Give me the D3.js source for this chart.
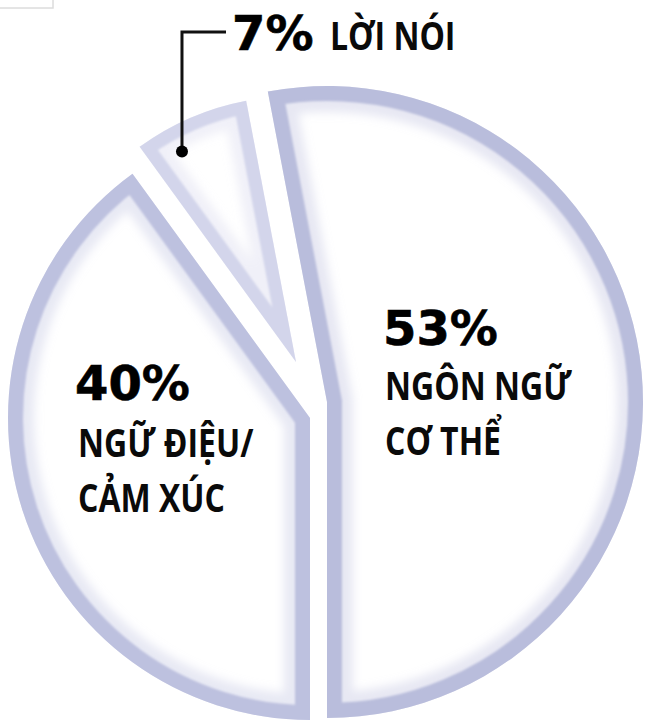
<!DOCTYPE html>
<html lang="vi">
<head>
<meta charset="utf-8">
<script src="https://d3js.org/d3.v7.min.js"></script>
<style type="text/css">
body {
	margin: 0;
	background: #fff;
}
.pct {
	font-family: "DejaVu Sans", sans-serif;
	font-weight: bold;
	font-size: 48px;
	fill: #000;
	stroke: #000;
	stroke-width: 0.6px;
}
.lbl {
	font-family: "Open Sans", "Noto Sans", sans-serif;
	font-weight: 700;
	font-size: 40px;
	fill: #0a0a0a;
}
</style>
</head>
<body>
<svg id="chart"></svg>
<script type="text/javascript">

// data
var categories = ["Ngôn ngữ cơ thể", "Ngữ điệu/cảm xúc", "Lời nói"];
var shares = [53, 40, 7];
var labelLines = [["NGÔN NGỮ", "CƠ THỂ"], ["NGỮ ĐIỆU/", "CẢM XÚC"], ["LỜI NÓI"]];

// layout of each exploded slice (apex position, radius, ring style)
var sliceLayout = [
	{x: 327, y: 402, r: 316, ring: "#b9bddc", w: 15},
	{x: 310, y: 418, r: 302, ring: "#bdc1df", w: 15},
	{x: 296, y: 362, r: 266, ring: "#d3d5eb", w: 13}
];
// label anchors
var labelLayout = [
	{px: 383, py: 345, lx: 385, ly: 400, lh: 55},
	{px: 75, py: 400, lx: 78, ly: 457, lh: 55},
	{px: 232, py: 50, lx: 330, ly: 50, lh: 0}
];
var condense = 0.8;

var width = 645, height = 725;

var svg = d3.select("#chart")
	.attr("width", width)
	.attr("height", height);

var defs = svg.append("defs");
defs.append("filter")
	.attr("id", "soft")
	.attr("x", "-10%").attr("y", "-10%")
	.attr("width", "120%").attr("height", "120%")
	.append("feGaussianBlur")
	.attr("stdDeviation", 5);
defs.append("filter")
	.attr("id", "edge")
	.append("feGaussianBlur")
	.attr("stdDeviation", 0.8);

// leftover frame in the top-left corner of the scan
svg.append("rect")
	.attr("x", -2).attr("y", -2)
	.attr("width", 55).attr("height", 10)
	.attr("fill", "none")
	.attr("stroke", "#dcdcdc")
	.attr("stroke-width", 1.5);

var total = d3.sum(shares);
var start = Math.PI - 2 * Math.PI * shares[0] / total;   // first slice ends straight down

var pie = d3.pie()
	.sort(null)
	.startAngle(start)
	.endAngle(start + 2 * Math.PI);

var arcs = pie(shares);

var g = svg.selectAll("g.slice")
	.data(arcs)
	.join("g")
	.attr("class", "slice")
	.attr("transform", function(d, i) { return "translate(" + sliceLayout[i].x + "," + sliceLayout[i].y + ")"; });

g.each(function(d, i) {
	var lay = sliceLayout[i];
	var arc = d3.arc().innerRadius(0).outerRadius(lay.r);
	var el = d3.select(this);
	var id = "clip" + i;

	el.append("clipPath")
		.attr("id", id)
		.append("path")
		.attr("d", arc(d));

	el.append("path")
		.attr("d", arc(d))
		.attr("fill", "#fff");

	var inner = el.append("g").attr("clip-path", "url(#" + id + ")");
	// soft glow on the inside of the ring
	inner.append("path")
		.attr("d", arc(d))
		.attr("fill", "none")
		.attr("stroke", lay.ring)
		.attr("stroke-opacity", 0.35)
		.attr("stroke-width", lay.w * 2 + 22)
		.attr("filter", "url(#soft)");
	inner.append("path")
		.attr("d", arc(d))
		.attr("fill", "none")
		.attr("stroke", lay.ring)
		.attr("stroke-width", lay.w * 2)
		.attr("stroke-linejoin", "miter")
		.attr("filter", "url(#edge)");
});

// callout for the small slice
var small = arcs[2];
var smallLay = sliceLayout[2];
var dotAngle = small.startAngle + 0.3 * (small.endAngle - small.startAngle);
var dot = d3.pointRadial(dotAngle, smallLay.r * 0.9);
var dotX = smallLay.x + dot[0], dotY = smallLay.y + dot[1];

svg.append("path")
	.attr("d", "M" + (labelLayout[2].px - 6) + "," + 32 + "H" + dotX + "V" + dotY)
	.attr("fill", "none")
	.attr("stroke", "#111")
	.attr("stroke-width", 3);
svg.append("circle")
	.attr("cx", dotX)
	.attr("cy", dotY)
	.attr("r", 6)
	.attr("fill", "#000");

// labels
arcs.forEach(function(d, i) {
	var L = labelLayout[i];
	svg.append("text")
		.attr("class", "pct")
		.attr("x", L.px)
		.attr("y", L.py)
		.text(shares[i] + "%");
	labelLines[i].forEach(function(line, k) {
		svg.append("text")
			.attr("class", "lbl")
			.attr("transform", "translate(" + L.lx + "," + (L.ly + k * L.lh) + ") scale(" + condense + ",1)")
			.text(line);
	});
});

</script>
</body>
</html>
